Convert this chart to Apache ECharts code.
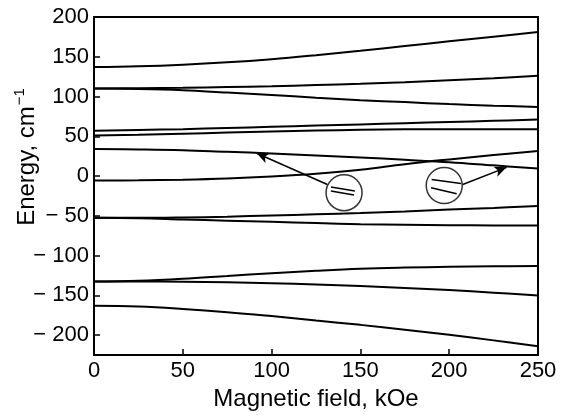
<!DOCTYPE html>
<html>
<head>
<meta charset="utf-8">
<script src="https://cdn.jsdelivr.net/npm/echarts@6/dist/echarts.min.js"></script>
<style>
html,body{margin:0;padding:0;background:#fff;}
#chart{width:569px;height:416px;}
</style>
</head>
<body>
<div id="chart"></div>
<script>
// Magnetic field values (kOe)
var fields = [0, 25, 50, 75, 100, 125, 150, 175, 200, 225, 250];
// Energy levels (cm^-1)
var level1  = [137, 138, 140, 143, 147, 152, 157.5, 163.5, 169.5, 175.2, 181];
var level2a = [110, 110.5, 111, 112, 113, 114.5, 116, 118, 120.5, 123, 126];
var level2b = [110, 109.5, 108, 105, 102, 98.5, 95.5, 93, 90.5, 88.5, 87];
var level3a = [57, 58, 59, 60.5, 62, 63.5, 65, 66.5, 68, 69.5, 71];
var level3b = [51, 52, 53.3, 54.7, 56, 57.2, 58.2, 58.8, 59, 59, 59];
var level4a = [34, 33.5, 32.5, 30.5, 28.5, 26, 23.5, 20.5, 17.5, 13.5, 9.5];
var level4b = [-5.5, -5.3, -4.5, -3, -0.5, 3, 8, 15, 21, 26.5, 31.5];
var level5a = [-52.5, -52.5, -52, -51, -49.5, -48, -46.5, -44.5, -42, -40, -37.5];
var level5b = [-52.5, -53, -54.5, -56, -57.5, -59, -60.5, -61.2, -61.7, -62, -62];
var level6a = [-132.5, -131.5, -129, -125.5, -122, -119, -116.5, -115, -114, -113.3, -113];
var level6b = [-132.5, -132.5, -132.8, -133.5, -134.7, -136.3, -138.2, -140.5, -143.3, -146.5, -150];
var level7  = [-163, -164, -167, -171, -176, -181.5, -187, -193, -199.5, -206.5, -214];
var levels = [level1, level2a, level2b, level3a, level3b, level4a, level4b, level5a, level5b, level6a, level6b, level7];

// Tick labels
var xTicks = [0, 50, 100, 150, 200, 250];
var yTicks = [-200, -150, -100, -50, 0, 50, 100, 150, 200];

// Annotations (data coordinates)
var circleCenters = [[140.8, -20.8], [197.2, -11.8]];
var arrowTails = [[131.4, -10.5], [207.6, -10.5]];
var arrowHeads = [[91.6, 28.8], [232.3, 11]];
var insetStarts = [[133.4, -13.8], [133.4, -18.7], [190.1, -4.3], [189.8, -14.6]];
var insetEnds = [[146.9, -18.7], [146.4, -23.7], [206.6, -9.3], [204.2, -22.1]];

var FONT = '"Liberation Sans", Arial, Helvetica, sans-serif';

var series = levels.map(function (lv) {
  return {
    type: 'line',
    data: fields.map(function (f, i) { return [f, lv[i]]; }),
    smooth: 0.4,
    showSymbol: false,
    silent: true,
    lineStyle: { color: '#000', width: 2 }
  };
});

var markData = [];
for (var i = 0; i < arrowTails.length; i++) {
  markData.push([{ coord: arrowTails[i], symbol: 'none' }, { coord: arrowHeads[i], symbol: 'arrow', symbolSize: [8, 12] }]);
}
for (var j = 0; j < insetStarts.length; j++) {
  markData.push([{ coord: insetStarts[j], symbol: 'none' }, { coord: insetEnds[j], symbol: 'none' }]);
}

series.push({
  type: 'scatter',
  data: circleCenters,
  symbol: 'circle',
  symbolSize: 36,
  silent: true,
  itemStyle: { color: 'rgba(0,0,0,0)', borderColor: '#000', borderWidth: 1.5 },
  markLine: {
    silent: true,
    animation: false,
    label: { show: false },
    lineStyle: { color: '#000', width: 1.5, type: 'solid' },
    data: markData
  }
});

var chart = echarts.init(document.getElementById('chart'), null, { renderer: 'canvas' });
chart.setOption({
  animation: false,
  backgroundColor: '#fff',
  grid: { left: 94, right: 31, top: 17, bottom: 56, show: true, borderColor: '#000', borderWidth: 2, backgroundColor: 'rgba(0,0,0,0)' },
  xAxis: {
    type: 'value', min: 0, max: 250, interval: 50,
    name: 'Magnetic field, kOe', nameLocation: 'middle', nameGap: 24,
    nameTextStyle: { fontFamily: FONT, fontSize: 24, color: '#000' },
    axisLine: { show: true, onZero: false, lineStyle: { color: '#000', width: 2 } },
    axisTick: { show: true, inside: true, length: 6, lineStyle: { color: '#000', width: 1.5 } },
    axisLabel: { fontFamily: FONT, fontSize: 22, color: '#000', margin: 5,
      formatter: function (v) { return xTicks.indexOf(v) >= 0 ? String(v) : ''; } },
    splitLine: { show: false }
  },
  yAxis: {
    type: 'value', min: -225, max: 200,
    axisLine: { show: true, onZero: false, lineStyle: { color: '#000', width: 2 } },
    axisTick: { show: true, inside: true, length: 6, customValues: yTicks, lineStyle: { color: '#000', width: 1.5 } },
    axisLabel: { fontFamily: FONT, fontSize: 22, color: '#000', margin: 5, customValues: yTicks,
      formatter: function (v) { return v < 0 ? '\u2212 ' + Math.abs(v) : String(v); } },
    splitLine: { show: false }
  },
  graphic: [{
    type: 'text',
    x: 27, y: 157,
    rotation: Math.PI / 2,
    style: {
      text: '{a|Energy, cm}{s|\u22121}',
      align: 'center', verticalAlign: 'middle',
      fill: '#000',
      rich: {
        a: { fontFamily: FONT, fontSize: 24, fill: '#000' },
        s: { fontFamily: FONT, fontSize: 15, fill: '#000', padding: [0, 0, 15, 1] }
      }
    }
  }],
  series: series
});
</script>
</body>
</html>
